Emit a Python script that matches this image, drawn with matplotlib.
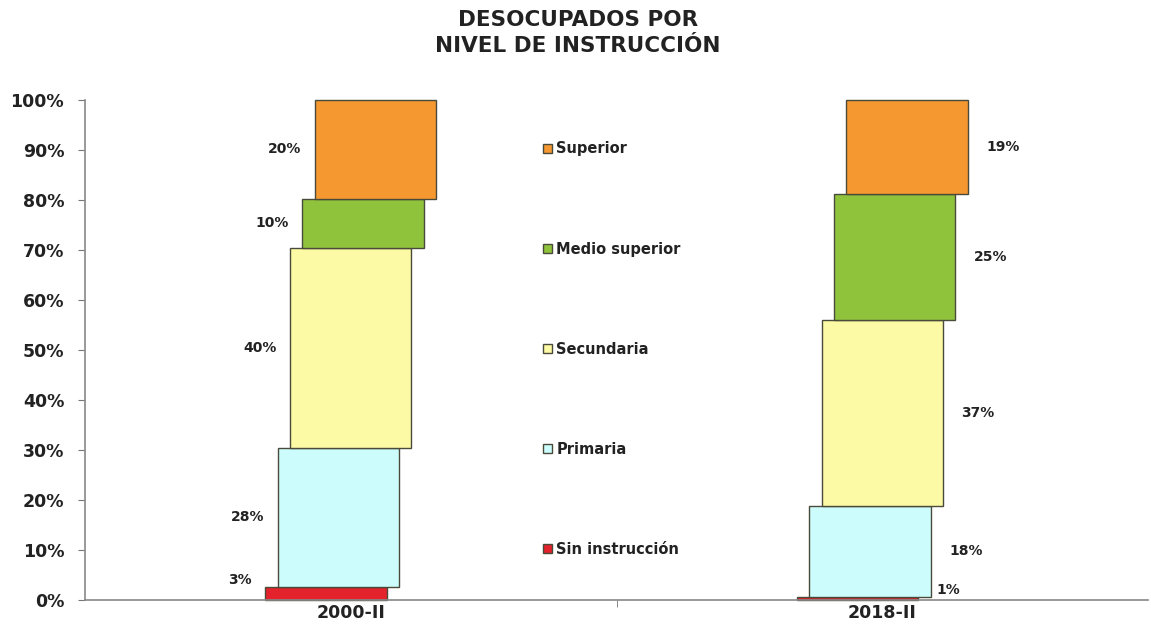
import matplotlib.pyplot as plt

# datos
categorias = ['2000-II', '2018-II']
niveles = ['Sin instrucción', 'Primaria', 'Secundaria', 'Medio superior', 'Superior']
valores_2000 = [2.6, 27.9, 40.0, 9.7, 19.8]
valores_2018 = [0.6, 18.3, 37.1, 25.2, 18.8]
colores = ['#e4222b', '#ccfcfc', '#fcfaa4', '#8fc33c', '#f5982f']
series = [valores_2000, valores_2018]

plt.rcParams['font.family'] = 'DejaVu Sans'
plt.rcParams['font.weight'] = 'bold'

fig = plt.figure(figsize=(11.51, 6.38), dpi=100)
ax = fig.add_axes([85 / 1151, 38 / 638, 1063 / 1151, 500 / 638])

ancho = 0.228
paso = 0.0232

for i, vals in enumerate(series):
    base = 0
    for k, v in enumerate(vals):
        x = i + (k - 2) * paso
        ax.bar(x, v, width=ancho, bottom=base, color=colores[k], edgecolor='#4a4a3a',
               linewidth=1, label=niveles[k] if i == 0 else None, clip_on=False)
        # etiqueta
        y = base + v / 2 if v > 5 else base + v + 1.5
        txt = '%d%%' % round(v)
        if i == 0:
            ax.text(x - ancho / 2 - 0.025, y, txt, ha='right', va='center', fontsize=10, color='#222222')
        else:
            ax.text(x + ancho / 2 + 0.035, y, txt, ha='left', va='center', fontsize=10, color='#222222')
        base += v

ax.set_xlim(-0.5, 1.5)
ax.set_ylim(0, 100)
ax.set_xticks([0, 1])
ax.set_xticklabels(categorias, fontsize=12.5, color='#222222')
ax.set_xticks([0.5], minor=True)
ax.tick_params(axis='x', which='major', length=0, pad=3)
ax.tick_params(axis='x', which='minor', length=5, color='#777777')
ax.set_yticks(range(0, 101, 10))
ax.set_yticklabels(['%d%%' % t for t in range(0, 101, 10)], fontsize=12.5, color='#222222')
ax.tick_params(axis='y', length=5, color='#777777', pad=10)
for s in ['top', 'right']:
    ax.spines[s].set_visible(False)
for s in ['left', 'bottom']:
    ax.spines[s].set_color('#888888')
    ax.spines[s].set_linewidth(1.2)

h, l = ax.get_legend_handles_labels()
ax.legend(h[::-1], l[::-1], loc='upper left', bbox_to_anchor=(0.431, 0.917), frameon=False,
          fontsize=10.5, handlelength=0.6, handleheight=0.6, handletextpad=0.3,
          labelspacing=5.83, borderpad=0, borderaxespad=0, labelcolor='#222222')

fig.text(0.502, 1 - 33 / 638, 'DESOCUPADOS POR\nNIVEL DE INSTRUCCIÓN', ha='center', va='center',
         fontsize=15.5, fontweight='bold', color='#222222', linespacing=1.35)

plt.savefig('out.png', dpi=100)
